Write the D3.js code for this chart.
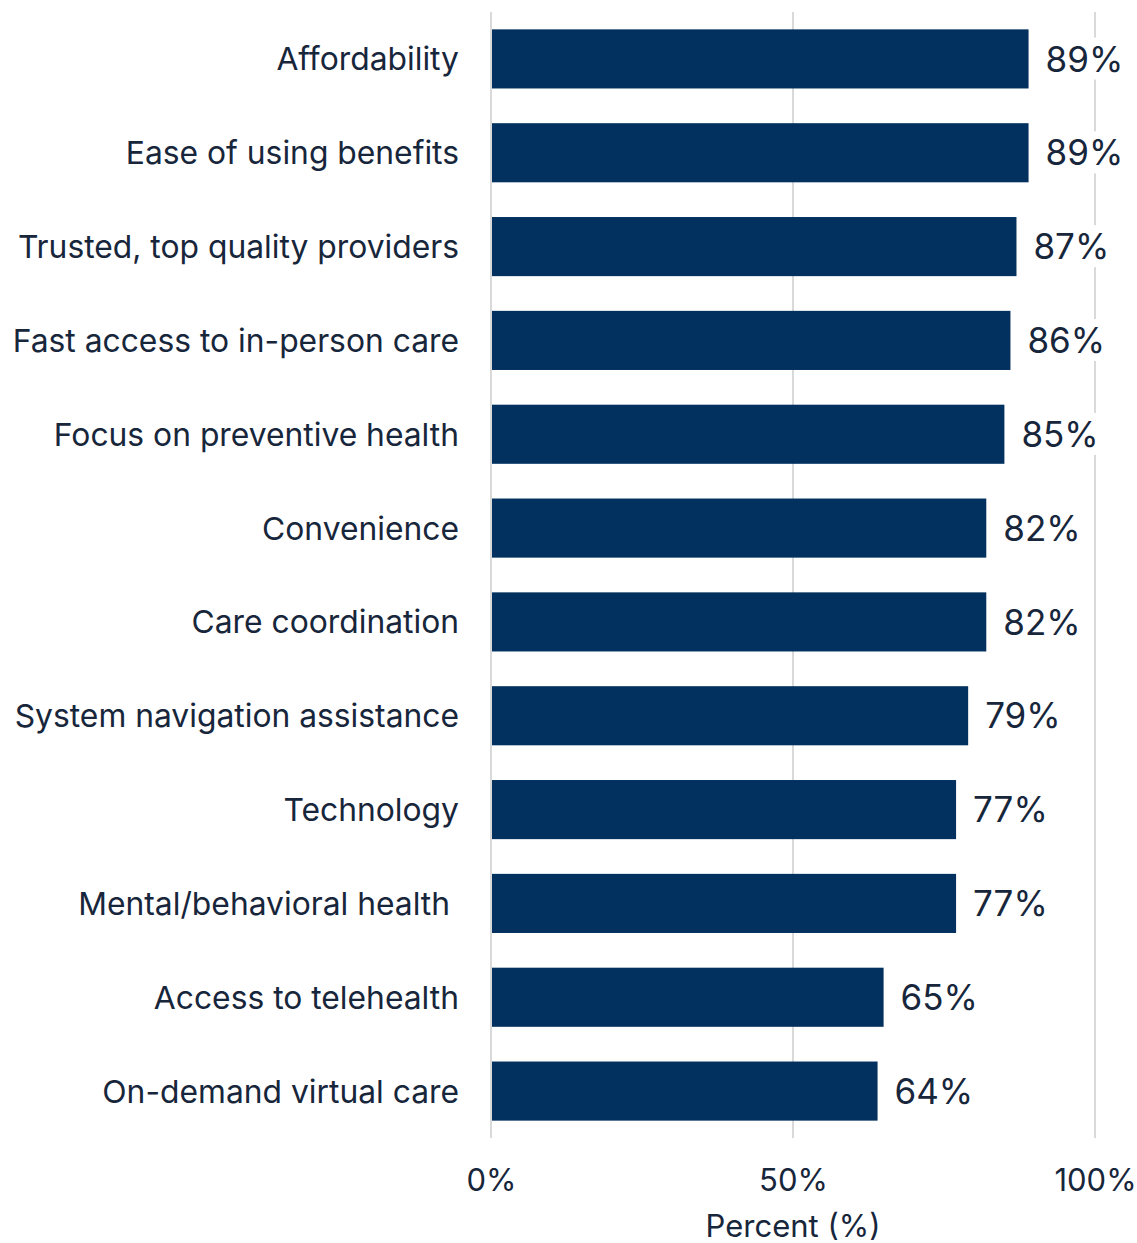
<!DOCTYPE html>
<html><head><meta charset="utf-8">
<script src="https://cdn.jsdelivr.net/npm/d3@7"></script>
<style>body{margin:0;background:#fff}svg{display:block}text{font-family:Inter,"Noto Sans",sans-serif}</style>
</head><body><div id="chart"></div>
<script>
const categories = ["Affordability","Ease of using benefits","Trusted, top quality providers","Fast access to in-person care","Focus on preventive health","Convenience","Care coordination","System navigation assistance","Technology","Mental/behavioral health ","Access to telehealth","On-demand virtual care"];
const values = [89,89,87,86,85,82,82,79,77,77,65,64];
const tickValues = [0,50,100];
const axisTitle = "Percent (%)";

const W=1137,H=1243;
const svg=d3.select("#chart").append("svg").attr("width",W).attr("height",H);
const x=d3.scaleLinear().domain([0,100]).range([491,1095]);
const y=d3.scaleBand().domain(categories).range([12,1138]).paddingInner(0.37).paddingOuter(0.185);
const textColor="#17263b", barColor="#02305f";

svg.append("g").selectAll("line").data(tickValues).join("line")
  .attr("x1",d=>x(d)).attr("x2",d=>x(d)).attr("y1",12).attr("y2",1138)
  .attr("stroke","#d9d9d9").attr("stroke-width",2);

const data=categories.map((c,i)=>({c,v:values[i]}));
svg.append("g").selectAll("rect").data(data).join("rect")
  .attr("x",x(0)+1).attr("y",d=>y(d.c)).attr("width",d=>x(d.v)-x(0)-1).attr("height",y.bandwidth())
  .attr("fill",barColor);

const lab=svg.append("g").selectAll("g").data(data).join("g");
lab.append("rect").attr("class","bg").attr("fill","#fff");
lab.append("text").attr("x",d=>x(d.v)+17).attr("y",d=>y(d.c)+y.bandwidth()/2).attr("dy","0.36em")
  .attr("font-size",35).attr("fill",textColor).text(d=>d.v+"%");
lab.each(function(){const t=d3.select(this).select("text").node().getBBox();
  d3.select(this).select("rect.bg").attr("x",t.x-2).attr("y",t.y).attr("width",t.width+4).attr("height",t.height);});

svg.append("g").selectAll("text").data(data).join("text")
  .attr("x",459).attr("y",d=>y(d.c)+y.bandwidth()/2).attr("dy","0.36em").attr("text-anchor","end")
  .style("white-space","pre").attr("font-size",31.8).attr("fill",textColor).text(d=>d.c);

const ax=d3.axisBottom(x).tickValues(tickValues).tickFormat(d=>d+"%").tickSize(0).tickPadding(0);
const g=svg.append("g").attr("transform","translate(0,1180)").call(ax);
g.select(".domain").remove();
g.selectAll("text").attr("font-size",31).attr("fill",textColor).attr("dy","0.36em").style("font-family","Inter");

svg.append("text").attr("x",x(50)).attr("y",1226).attr("dy","0.36em").attr("text-anchor","middle")
  .attr("font-size",31).attr("fill",textColor).text(axisTitle);
</script></body></html>
